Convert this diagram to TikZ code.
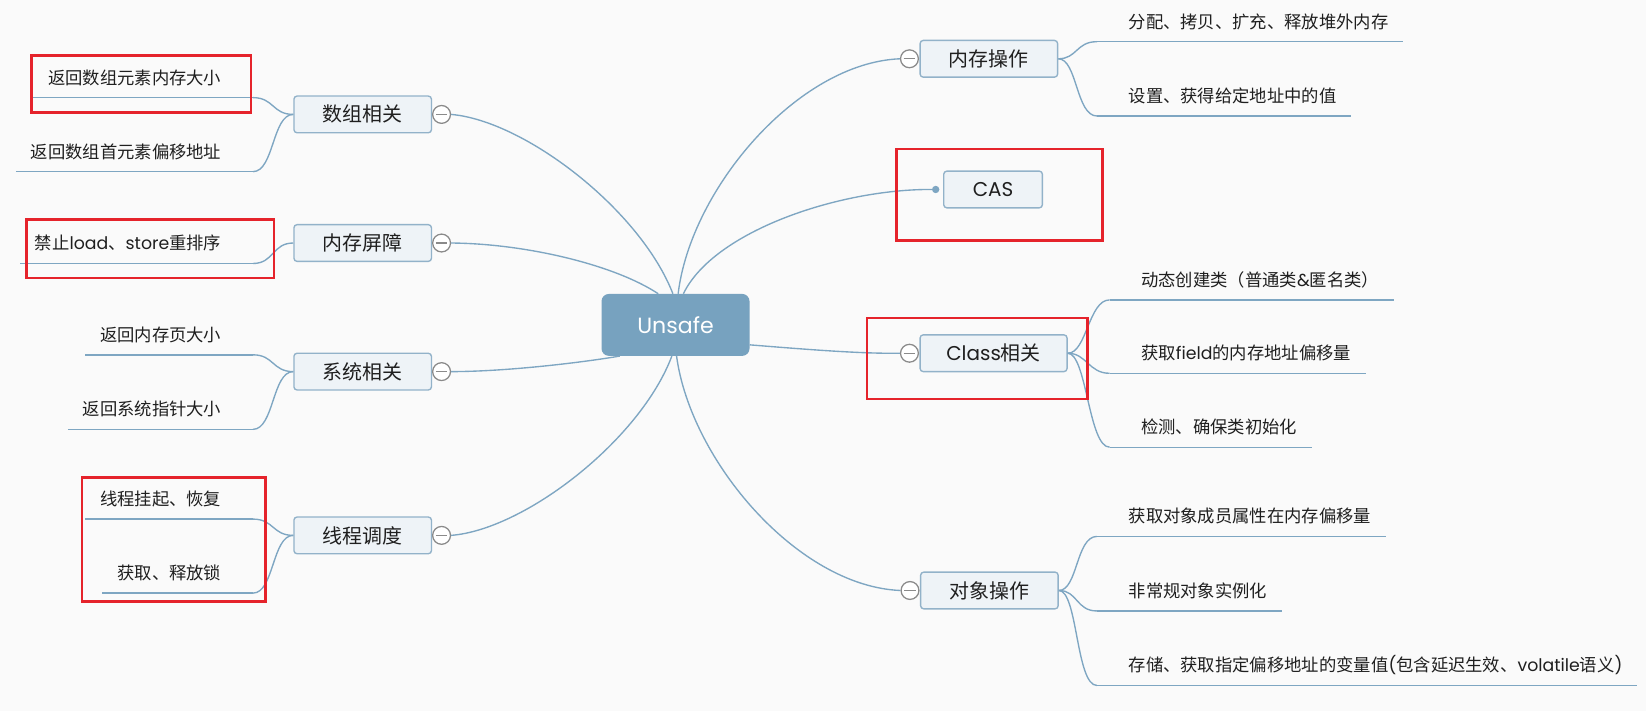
\documentclass[tikz,border=0pt]{standalone}
\usepackage{fontspec}
\setmainfont{Noto Sans CJK SC}
\newfontfamily\latnfont{Poppins}
\newcommand{\latn}[1]{{\latnfont #1}}
\definecolor{linec}{HTML}{7EA6C2}
\definecolor{rootc}{HTML}{77A2BF}
\definecolor{topicfill}{HTML}{EEF3F7}
\definecolor{topicdraw}{HTML}{92B2C9}
\definecolor{foldc}{HTML}{8A8A8A}
\definecolor{redc}{HTML}{E5232B}
\definecolor{bgc}{HTML}{FAFAFA}
\definecolor{textc}{HTML}{1F1F1F}

\begin{document}
\begin{tikzpicture}[x=1pt,y=-1pt,
    branch/.style={draw=linec,line width=1.3pt},
    root/.style={fill=rootc,rounded corners=7pt,minimum width=141pt,minimum height=59pt,
      text=white,font=\fontsize{21}{21}\selectfont\latnfont},
    topic/.style={draw=topicdraw,fill=topicfill,line width=1.3pt,rounded corners=3pt,
      minimum width=131pt,minimum height=35pt,inner sep=0pt,text=textc,
      font=\fontsize{19}{19}\selectfont},
    fold/.style={circle,draw=foldc,fill=white,line width=1.2pt,minimum size=17pt,inner sep=0pt,
      path picture={\draw[foldc,line width=1.2pt]
        ([xshift=-5.5pt]path picture bounding box.center)--([xshift=5.5pt]path picture bounding box.center);}},
    leaf/.style={inner xsep=0pt,inner ysep=12.7pt,text depth=0pt,text=textc,
      font=\fontsize{16.5}{16.5}\selectfont},
    leafL/.style={leaf,anchor=south east,
      execute at begin node={\hspace{14pt}},execute at end node={\hspace{30pt}}},
    leafR/.style={leaf,anchor=south west,
      execute at begin node={\hspace{30pt}},execute at end node={\hspace{14pt}}},
    redbox/.style={draw=redc,line width=2.5pt}]
      \path[use as bounding box,fill=bgc] (0,0) rectangle (1568,677.3);

      % topics
      \node[root] (unsafe) at (643.5,309.5) {Unsafe};
      \node[topic] (arr) at (345.5,109) {数组相关};
      \node[topic] (fence) at (345.5,231.5) {内存屏障};
      \node[topic] (sys) at (345.5,354) {系统相关};
      \node[topic] (thr) at (345.5,510) {线程调度};
      \node[topic] (mem) at (942,56) {内存操作};
      \node[topic,minimum width=94pt] (cas) at (946,180.5) {\latn{CAS}};
      \node[topic,minimum width=140pt] (cls) at (946.5,336.5) {\latn{Class}相关};
      \node[topic] (obj) at (942.5,562.5) {对象操作};

      \foreach \t in {arr,fence,sys,thr}
        \node[fold] (\t F) at ([xshift=9pt]\t.east) {};
      \foreach \t in {mem,cls,obj}
        \node[fold] (\t F) at ([xshift=-9.5pt]\t.west) {};
      \node[circle,fill=linec,inner sep=0pt,minimum size=7pt] (casD) at ([xshift=-7pt]cas.west) {};

      % leaves
      \node[leafL] (a1) at (241,93) {返回数组元素内存大小};
      \node[leafL] (a2) at (241,163.5) {返回数组首元素偏移地址};
      \node[leafL] (b1) at (241,251) {禁止\latn{load}、\latn{store}重排序};
      \node[leafL] (c1) at (241,338) {返回内存页大小};
      \node[leafL] (c2) at (241,409) {返回系统指针大小};
      \node[leafL] (d1) at (241,494.5) {线程挂起、恢复};
      \node[leafL] (d2) at (241,565) {获取、释放锁};
      \node[leafR] (e1) at (1045,39.7) {分配、拷贝、扩充、释放堆外内存};
      \node[leafR] (e2) at (1045,110.5) {设置、获得给定地址中的值};
      \node[leafR] (f1) at (1057,285.7) {动态创建类（普通类\latn{\&}匿名类）};
      \node[leafR] (f2) at (1057,355.6) {获取\latn{field}的内存地址偏移量};
      \node[leafR] (f3) at (1057,426) {检测、确保类初始化};
      \node[leafR] (g1) at (1045,511) {获取对象成员属性在内存偏移量};
      \node[leafR] (g2) at (1045,582) {非常规对象实例化};
      \node[leafR] (g3) at (1045,653) {存储、获取指定偏移地址的变量值\latn{(}包含延迟生效、\latn{volatile}语义\latn{)}};

      \foreach \n in {a1,a2,b1,c1,c2,d1,d2,e1,e2,f1,f2,f3,g1,g2,g3}
        \draw[branch] (\n.south west)--(\n.south east);
      \foreach \n/\t in {a1/arr,a2/arr,b1/fence,c1/sys,c2/sys,d1/thr,d2/thr}
        \draw[branch] (\n.south east) .. controls +(20,0) and +(-20,0) .. (\t.west);
      \foreach \n/\t in {e1/mem,e2/mem,f1/cls,f2/cls,f3/cls,g1/obj,g2/obj,g3/obj}
        \draw[branch] (\t.east) .. controls +(18,0) and +(-20,0) .. (\n.south west);

      % main branches
      \draw[branch] ([xshift=-2.5pt]unsafe.north) .. controls (610,200) and (500,115) .. (arrF.east);
      \draw[branch] ([xshift=-16.5pt]unsafe.north) .. controls (585,252) and (500,232) .. (fenceF.east);
      \draw[branch] ([xshift=-53pt]unsafe.south) .. controls (550,346) and (480,354) .. (sysF.east);
      \draw[branch] ([xshift=-3.5pt]unsafe.south) .. controls (610,419) and (500,504.5) .. (thrF.east);
      \draw[branch] ([xshift=2.5pt]unsafe.north) .. controls (658,180) and (760,60) .. (memF.west);
      \draw[branch] ([xshift=7.5pt]unsafe.north) .. controls (680,220) and (800,180) .. (casD);
      \draw[branch] ([yshift=-19pt]unsafe.east) .. controls (770,333) and (820,337) .. (clsF.west);
      \draw[branch] ([xshift=1pt]unsafe.south) .. controls (658,439) and (760,558.5) .. (objF.west);

      % marks
      \draw[redbox] (30,53) rectangle (239,107);
      \draw[redbox] (25,209) rectangle (261,265);
      \draw[redbox] (78,455) rectangle (253,573);
      \draw[redbox] (854,142) rectangle (1050,229);
      \draw[redbox] (826,303) rectangle (1036,380);
    \end{tikzpicture}
\end{document}
